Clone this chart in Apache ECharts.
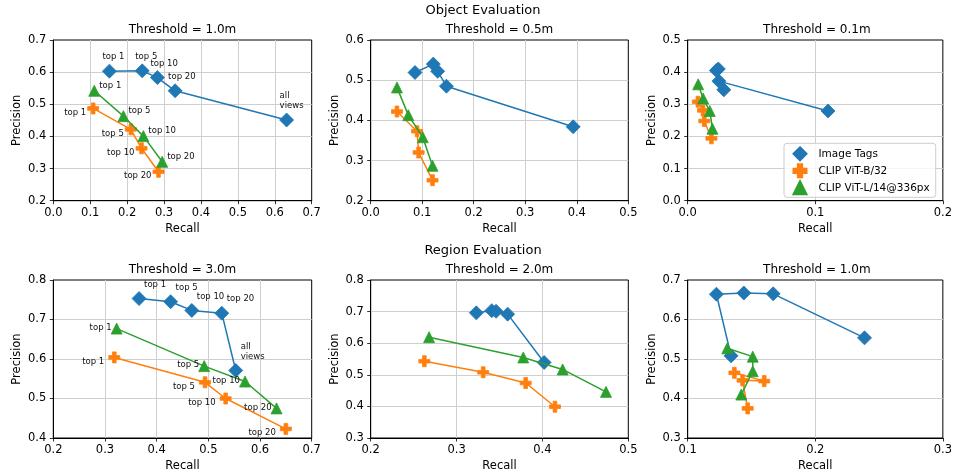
<!DOCTYPE html>
<html>
<head>
<meta charset="utf-8">
<script src="https://cdn.jsdelivr.net/npm/echarts@6/dist/echarts.min.js"></script>
<style>
  html, body { margin: 0; padding: 0; background: #fff; }
  #chart { width: 955px; height: 473px; }
</style>
</head>
<body>
<div id="chart"></div>
<script>
// point labels (only annotated in the 1.0m object / 3.0m region panels)
const pointLabels = ['top 1', 'top 5', 'top 10', 'top 20', 'all\nviews']
const methodNames = ['Image Tags', 'CLIP ViT-B/32', 'CLIP ViT-L/14@336px']

// [recall, precision]
const obj10Tags = [[0.152, 0.603], [0.241, 0.604], [0.282, 0.583], [0.330, 0.542], [0.632, 0.451]]
const obj10B32 = [[0.108, 0.487], [0.210, 0.422], [0.239, 0.363], [0.285, 0.290]]
const obj10L14 = [[0.111, 0.542], [0.190, 0.463], [0.244, 0.401], [0.295, 0.321]]

const obj05Tags = [[0.086, 0.519], [0.1215, 0.540], [0.130, 0.522], [0.147, 0.485], [0.393, 0.384]]
const obj05B32 = [[0.051, 0.422], [0.090, 0.373], [0.093, 0.320], [0.120, 0.251]]
const obj05L14 = [[0.051, 0.482], [0.073, 0.413], [0.101, 0.358], [0.120, 0.287]]

const obj01Tags = [[0.0225, 0.405], [0.024, 0.410], [0.0283, 0.345], [0.0245, 0.372], [0.110, 0.279]]
const obj01B32 = [[0.008, 0.308], [0.012, 0.281], [0.013, 0.248], [0.0186, 0.194]]
const obj01L14 = [[0.0082, 0.362], [0.0121, 0.318], [0.0173, 0.279], [0.0194, 0.224]]

const reg30Tags = [[0.366, 0.753], [0.427, 0.745], [0.468, 0.723], [0.526, 0.716], [0.553, 0.571]]
const reg30B32 = [[0.318, 0.604], [0.4935, 0.541], [0.5335, 0.500], [0.650, 0.423]]
const reg30L14 = [[0.3226, 0.677], [0.492, 0.582], [0.571, 0.543], [0.632, 0.475]]

const reg20Tags = [[0.323, 0.696], [0.341, 0.703], [0.346, 0.701], [0.3595, 0.692], [0.402, 0.539]]
const reg20B32 = [[0.2625, 0.543], [0.331, 0.508], [0.3805, 0.474], [0.4146, 0.399]]
const reg20L14 = [[0.268, 0.619], [0.3777, 0.555], [0.4235, 0.517], [0.474, 0.446]]

const reg10Tags = [[0.134, 0.508], [0.1225, 0.664], [0.144, 0.667], [0.167, 0.665], [0.2386, 0.5535]]
const reg10B32 = [[0.1366, 0.465], [0.160, 0.444], [0.143, 0.446], [0.147, 0.375]]
const reg10L14 = [[0.131, 0.527], [0.151, 0.506], [0.151, 0.469], [0.142, 0.410]]

const panelTitles = ['Threshold = 1.0m', 'Threshold = 0.5m', 'Threshold = 0.1m',
  'Threshold = 3.0m', 'Threshold = 2.0m', 'Threshold = 1.0m']
const xRanges = [[0, 0.7], [0, 0.5], [0, 0.2], [0.2, 0.7], [0.2, 0.5], [0.1, 0.3]]
const yRanges = [[0.2, 0.7], [0.2, 0.6], [0, 0.5], [0.4, 0.8], [0.3, 0.8], [0.3, 0.7]]
const panelData = [
  [obj10Tags, obj10B32, obj10L14],
  [obj05Tags, obj05B32, obj05L14],
  [obj01Tags, obj01B32, obj01L14],
  [reg30Tags, reg30B32, reg30L14],
  [reg20Tags, reg20B32, reg20L14],
  [reg10Tags, reg10B32, reg10L14],
]

// layout / style
const FONT = 'DejaVu Sans'
const colors = ['#1f77b4', '#ff7f0e', '#2ca02c']
const plusPath = 'path://M1,0L2,0L2,1L3,1L3,2L2,2L2,3L1,3L1,2L0,2L0,1L1,1Z'
const symbols = ['diamond', plusPath, 'triangle']
const symbolSizes = [14, 11, 11]
const colLeft = [53.3, 370.7, 687.7]
const colWidth = [258.4, 257.6, 258.3]
const rowTop = [40, 280]
const rowHeight = [160.7, 161]

// label placement per panel: [tags, b32, l14]
const labelCfg = {
  0: [
    { align: 'left', verticalAlign: 'bottom', offset: [-7, -9] },
    { align: 'right', verticalAlign: 'middle', offset: [-7, 4] },
    { align: 'left', verticalAlign: 'middle', offset: [5, -5] },
  ],
  3: [
    { align: 'left', verticalAlign: 'bottom', offset: [5, -9] },
    { align: 'right', verticalAlign: 'middle', offset: [-10, 4] },
    { align: 'right', verticalAlign: 'middle', offset: [-5, -1] },
  ],
}

const grids = []
const xAxes = []
const yAxes = []
const titles = [
  { text: 'Object Evaluation', left: 483, top: 10.5 },
  { text: 'Region Evaluation', left: 483, top: 250.5 },
].map(t => ({
  ...t, padding: 0, textAlign: 'center', textVerticalAlign: 'middle',
  textStyle: { fontFamily: FONT, fontSize: 13, fontWeight: 'normal', color: '#000' },
}))
const series = []

panelData.forEach((data, i) => {
  const row = Math.floor(i / 3)
  const col = i % 3
  grids.push({
    left: colLeft[col], top: rowTop[row], width: colWidth[col], height: rowHeight[row],
    show: true, borderColor: '#000', borderWidth: 1, backgroundColor: 'transparent',
  })
  titles.push({
    text: panelTitles[i], left: colLeft[col] + colWidth[col] / 2, top: rowTop[row] - 10.5,
    padding: 0, textAlign: 'center', textVerticalAlign: 'middle',
    textStyle: { fontFamily: FONT, fontSize: 12, fontWeight: 'normal', color: '#000' },
  })
  const axisCommon = {
    type: 'value', gridIndex: i, interval: 0.1,
    axisLine: { show: true, lineStyle: { color: '#000', width: 1 } },
    axisTick: { show: true, inside: false, length: 3.5, lineStyle: { color: '#000', width: 0.8 } },
    axisLabel: {
      fontFamily: FONT, fontSize: 11.5, color: '#000',
      formatter: v => v.toFixed(1), showMinLabel: true, showMaxLabel: true,
    },
    splitLine: { show: true, showMinLine: false, showMaxLine: false, lineStyle: { color: '#cfcfcf', width: 1 } },
    nameLocation: 'middle',
    nameTextStyle: { fontFamily: FONT, fontSize: 11.5, color: '#000' },
  }
  xAxes.push({
    ...axisCommon, min: xRanges[i][0], max: xRanges[i][1], name: 'Recall', nameGap: 22,
    axisLabel: { ...axisCommon.axisLabel, margin: 6 },
  })
  yAxes.push({
    ...axisCommon, min: yRanges[i][0], max: yRanges[i][1], name: 'Precision', nameGap: 30,
    axisLabel: { ...axisCommon.axisLabel, margin: 7 },
  })
  data.forEach((pts, j) => {
    const cfg = labelCfg[i] ? labelCfg[i][j] : null
    series.push({
      type: 'line', name: methodNames[j], xAxisIndex: i, yAxisIndex: i,
      data: pts, symbol: symbols[j], symbolSize: symbolSizes[j], showSymbol: true,
      lineStyle: { color: colors[j], width: 1.5 },
      itemStyle: { color: colors[j], borderColor: colors[j], borderWidth: 0.8 },
      emphasis: { disabled: true },
      z: 2 + j,
      label: cfg ? {
        show: true, position: 'inside', align: cfg.align, verticalAlign: cfg.verticalAlign,
        offset: cfg.offset, formatter: p => pointLabels[p.dataIndex],
        fontFamily: FONT, fontSize: 8.5, color: '#111', lineHeight: 10,
      } : { show: false },
    })
  })
})

const chart = echarts.init(document.getElementById('chart'))
chart.setOption({
  animation: false,
  backgroundColor: '#fff',
  title: titles,
  grid: grids,
  xAxis: xAxes,
  yAxis: yAxes,
  legend: {
    left: 784, top: 143.3, orient: 'vertical',
    padding: [3, 6, 2, 8.5], itemGap: 2, itemWidth: 13, itemHeight: 13,
    borderColor: '#cccccc', borderWidth: 1, borderRadius: 3,
    backgroundColor: 'rgba(255,255,255,0.8)',
    textStyle: { fontFamily: FONT, fontSize: 10.5, color: '#000', lineHeight: 13, padding: [0, 0, 0, 7] },
    data: methodNames.map((n, j) => ({ name: n, icon: symbols[j] })),
  },
  series: series,
})
</script>
</body>
</html>
